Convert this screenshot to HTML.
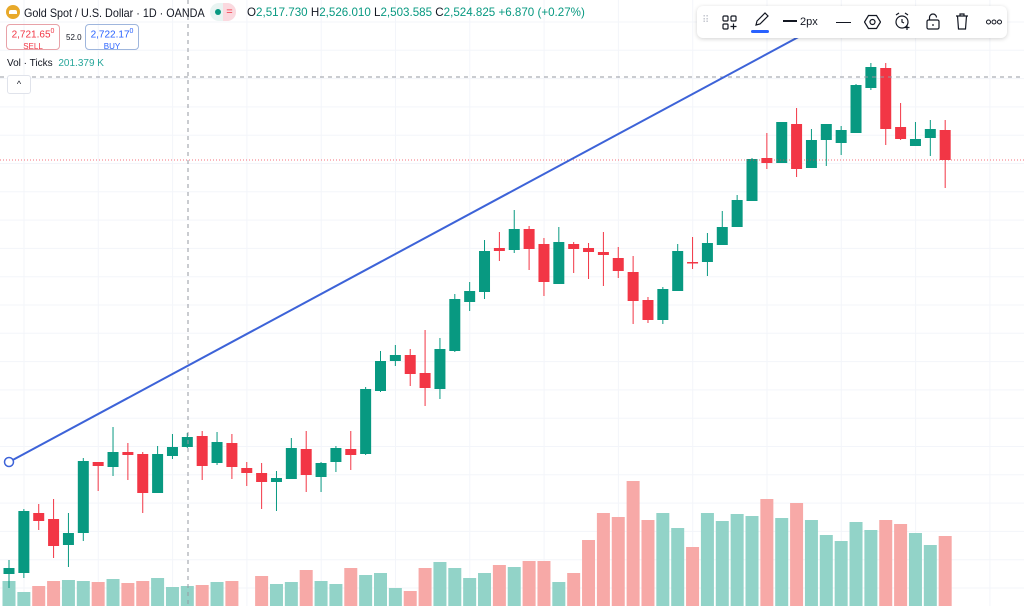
<!DOCTYPE html>
<html><head><meta charset="utf-8"><style>
body{margin:0;width:1024px;height:606px;overflow:hidden;background:#fff;font-family:"Liberation Sans",sans-serif;position:relative}
.abs{position:absolute}
</style></head><body>
<svg id="chart" width="1024" height="606" style="position:absolute;left:0;top:0">
<g id="grid"></g><g id="vols"></g><g id="candles"></g><g id="overlay"></g>
</svg>

<div class="abs" style="left:6px;top:5px;height:18px;font-size:12px;color:#131722;white-space:nowrap">
 <span style="display:inline-block;width:14px;height:14px;border-radius:50%;background:#e8a92a;vertical-align:-2px;position:relative"><span style="position:absolute;left:3px;top:5px;width:8px;height:4px;background:#fff;border-radius:2px 2px 0 0"></span></span>
 <span style="display:inline-block;transform:scaleX(0.9);transform-origin:0 50%;margin-left:1px">Gold Spot / U.S. Dollar · 1D · OANDA</span>
</div>
<div class="abs" style="left:210px;top:3px;width:26px;height:18px;border-radius:9px;background:#e9f4f2"><span style="position:absolute;left:5px;top:6px;width:6px;height:6px;border-radius:50%;background:#089981"></span><span style="position:absolute;left:13px;top:0;width:13px;height:18px;border-radius:0 9px 9px 0;background:#fbd9df;color:#f23645;font-size:11px;line-height:18px;text-align:center">=</span></div>
<div class="abs" style="left:247px;top:6px;font-size:11.6px;color:#089981;white-space:nowrap"><span style="color:#131722">O</span>2,517.730 <span style="color:#131722">H</span>2,526.010 <span style="color:#131722">L</span>2,503.585 <span style="color:#131722">C</span>2,524.825 +6.870 (+0.27%)</div>
<div class="abs" style="left:6px;top:24px;width:54px;height:26px;border:1px solid #e8a2a8;border-radius:4px;text-align:center;color:#f23645;font-size:10px;line-height:12px;padding-top:1px;box-sizing:border-box">2,721.65<sup style="font-size:7px">0</sup><br><span style="font-size:8px">SELL</span></div>
<div class="abs" style="left:66px;top:33px;font-size:8px;color:#131722">52.0</div>
<div class="abs" style="left:85px;top:24px;width:54px;height:26px;border:1px solid #9fb6dd;border-radius:4px;text-align:center;color:#2962ff;font-size:10px;line-height:12px;padding-top:1px;box-sizing:border-box">2,722.17<sup style="font-size:7px">0</sup><br><span style="font-size:8px">BUY</span></div>
<div class="abs" style="left:7px;top:58px;font-size:10px;color:#131722;white-space:nowrap">Vol · Ticks <span style="color:#26a69a;margin-left:3px">201.379 K</span></div>
<div class="abs" style="left:7px;top:75px;width:22px;height:17px;border:1px solid #e0e3eb;border-radius:3px;background:#fff;font-size:9px;text-align:center;line-height:17px;color:#131722">^</div>

<div class="abs" style="left:697px;top:6px;width:310px;height:32px;background:#fff;border-radius:6px;box-shadow:0 1px 4px rgba(0,0,0,.18);font-size:11px;color:#131722">
 <span class="abs" style="left:5px;top:9px;color:#c4c7cf;font-size:10px">⠿</span>
 <svg class="abs" style="left:25px;top:9px" width="15" height="15" fill="none" stroke="#131722" stroke-width="1.2"><rect x="1" y="1" width="5" height="5" rx="1"/><rect x="9" y="1" width="5" height="5" rx="1"/><rect x="1" y="9" width="5" height="5" rx="1"/><path d="M11.5 8.5v6M8.5 11.5h6"/></svg>
 <svg class="abs" style="left:56px;top:6px" width="16" height="16" fill="none" stroke="#131722" stroke-width="1.2"><path d="M3 13l1-4 8-8 3 3-8 8z"/></svg>
 <span class="abs" style="left:54px;top:24px;width:18px;height:3px;background:#2962ff;border-radius:2px"></span>
 <span class="abs" style="left:86px;top:10px;white-space:nowrap"><span style="display:inline-block;width:14px;height:2px;background:#131722;vertical-align:3px"></span> 2px</span>
 <span class="abs" style="left:139px;top:16px;width:15px;height:1px;background:#131722"></span>
 <svg class="abs" style="left:167px;top:8px" width="17" height="16" fill="none" stroke="#131722" stroke-width="1.2"><path d="M4.5 1.5h8l4 6.5-4 6.5h-8l-4-6.5z"/><circle cx="8.5" cy="8" r="2.5"/></svg>
 <svg class="abs" style="left:197px;top:6px" width="18" height="18" fill="none" stroke="#131722" stroke-width="1.2"><circle cx="8" cy="10" r="6"/><path d="M8 7v3l2 1M2 3l3-2M14 3l-3-2M13 13v5M10.5 15.5h5"/></svg>
 <svg class="abs" style="left:229px;top:7px" width="14" height="17" fill="none" stroke="#131722" stroke-width="1.2"><rect x="1" y="7" width="12" height="9" rx="1.5"/><path d="M3.5 7V4.5a3.5 3.5 0 0 1 7 0"/><path d="M7 11v2"/></svg>
 <svg class="abs" style="left:258px;top:6px" width="14" height="18" fill="none" stroke="#131722" stroke-width="1.2"><path d="M1 4h12M5 4V2h4v2M2.5 4l1 13h7l1-13"/></svg>
 <svg class="abs" style="left:289px;top:13px" width="16" height="6" fill="none" stroke="#131722" stroke-width="1"><circle cx="2.5" cy="3" r="2"/><circle cx="8" cy="3" r="2"/><circle cx="13.5" cy="3" r="2"/></svg>
</div>

<script>
const opens=[2513,2513.5,2543.5,2540.5,2527.5,2533.5,2569,2566.5,2574,2573,2553.5,2572,2576.5,2582,2568.5,2578.5,2566,2563.5,2559,2560.5,2575.5,2561.5,2569,2575.5,2573,2604.5,2619.5,2622.5,2613.5,2605.5,2624.5,2649,2654,2676,2675,2685.5,2678,2658,2678,2676,2674,2671,2664,2650,2640,2654.5,2669,2669,2677.5,2686.5,2699.5,2721,2718.5,2738,2716,2730,2728.5,2733.5,2756,2766,2736.5,2727,2731,2735];
const highs=[2520,2545.5,2548,2550.5,2543.5,2571,2569,2586.5,2578.5,2574,2577,2583,2583.5,2584.5,2584,2583,2569,2568.5,2564.5,2581,2584.5,2569,2577,2584.5,2606.5,2624.5,2627.5,2625.5,2635,2631,2653,2659,2680,2684,2695,2687,2681,2686.5,2679,2678.5,2684,2676.5,2672,2651.5,2656.5,2678,2681.5,2683.5,2694.5,2702.5,2721,2733.5,2739,2746,2735.5,2738,2737,2758,2768.5,2768.5,2748.5,2739,2740,2740];
const lows=[2506,2511,2535,2521,2516.5,2529.5,2554.5,2562,2560,2543.5,2553.5,2570.5,2576,2560,2567.5,2560.5,2557,2545.5,2544.5,2560.5,2554,2554,2564,2565,2572.5,2604,2617,2607,2597,2600.5,2624,2644.5,2650.5,2669.5,2673.5,2665,2652,2658,2663.5,2660.5,2657,2661,2638,2638.5,2638,2654.5,2665.5,2662,2677.5,2686.5,2699.5,2715.5,2718.5,2711.5,2716,2717,2722.5,2733.5,2755,2727.5,2730,2727,2722,2706];
const closes=[2516,2544.5,2539.5,2527,2533.5,2569.5,2567,2574,2572.5,2553.5,2573,2576.5,2581.5,2567,2579,2566.5,2563.5,2559,2561,2576,2562.5,2568.5,2576,2572.5,2605.5,2619.5,2622.5,2613,2606,2625.5,2650.5,2654.5,2674.5,2674.5,2685.5,2675.5,2659,2679,2675.5,2674,2672.5,2664.5,2649.5,2640,2655.5,2674.5,2668.5,2678.5,2686.5,2700,2720.5,2718.5,2739,2715.5,2730,2738,2735,2757.5,2766.5,2735.5,2730.5,2730.5,2735.5,2720];
const volumes=[25,14,20,25,26,25,24,27,23,25,28,19,20,21,24,25,0,30,22,24,36,25,22,38,31,33,18,15,38,44,38,28,33,41,39,45,45,24,33,66,93,89,125,86,93,78,59,93,85,92,90,107,88,103,86,71,65,84,76,86,82,73,61,70];
const trendStart=[0,2569]; const trendEnd=[54,2785];

const NS='http://www.w3.org/2000/svg';
function xOf(i){return 9+i*14.86;}
function yOf(p){return (2800-p)*2;}
function yVol(v){return 606-v;}
function mk(t,a,parent){const e=document.createElementNS(NS,t);for(const k in a)e.setAttribute(k,a[k]);parent.appendChild(e);return e;}
const grid=document.getElementById('grid'),vg=document.getElementById('vols'),cg=document.getElementById('candles'),ov=document.getElementById('overlay');
for(let k=0;k<22;k++){const y=22+k*28.3;const l=mk('line',{x1:0,x2:1024,y1:y,y2:y,stroke:'#f3f5fa','stroke-width':1},grid);

}
for(let k=0;k<14;k++){const x=24+k*74.3;const l=mk('line',{x1:x,x2:x,y1:0,y2:606,stroke:'#f3f5fa','stroke-width':1},grid);

}
for(let i=0;i<opens.length;i++){
 const up=closes[i]>=opens[i];const x=xOf(i);
 if(volumes[i]>0){const r=mk('rect',{x:x-6.5,y:yVol(volumes[i]),width:13,height:606-yVol(volumes[i]),fill:up?'#92d3c8':'#f7a9a7'},vg);
 
 }
 const col=up?'#089981':'#f23645';
 const g=mk('g',{},cg);
 
 
 mk('line',{x1:x,x2:x,y1:yOf(highs[i]),y2:yOf(lows[i]),stroke:col,'stroke-width':1},g);
 const t=yOf(Math.max(opens[i],closes[i])),b=yOf(Math.min(opens[i],closes[i]));
 mk('rect',{x:x-5.5,y:t,width:11,height:Math.max(1.5,b-t),fill:col},g);
}
let l=mk('line',{x1:188,x2:188,y1:0,y2:606,stroke:'#9598a1','stroke-dasharray':'4 4','stroke-width':1},ov);


l=mk('line',{x1:0,x2:1024,y1:77,y2:77,stroke:'#9598a1','stroke-dasharray':'4 4','stroke-width':1},ov);


l=mk('line',{x1:0,x2:1024,y1:yOf(closes[closes.length-1]),y2:yOf(closes[closes.length-1]),stroke:'#f23645','stroke-dasharray':'1 2','stroke-width':1,opacity:0.7},ov);


l=mk('line',{x1:xOf(trendStart[0]),y1:yOf(trendStart[1]),x2:xOf(trendEnd[0]),y2:yOf(trendEnd[1]),stroke:'#3d63d8','stroke-width':2},ov);


const c=mk('circle',{cx:xOf(trendStart[0]),cy:yOf(trendStart[1]),r:4.5,fill:'#fff',stroke:'#3d63d8','stroke-width':1.5},ov);


</script>
</body></html>
